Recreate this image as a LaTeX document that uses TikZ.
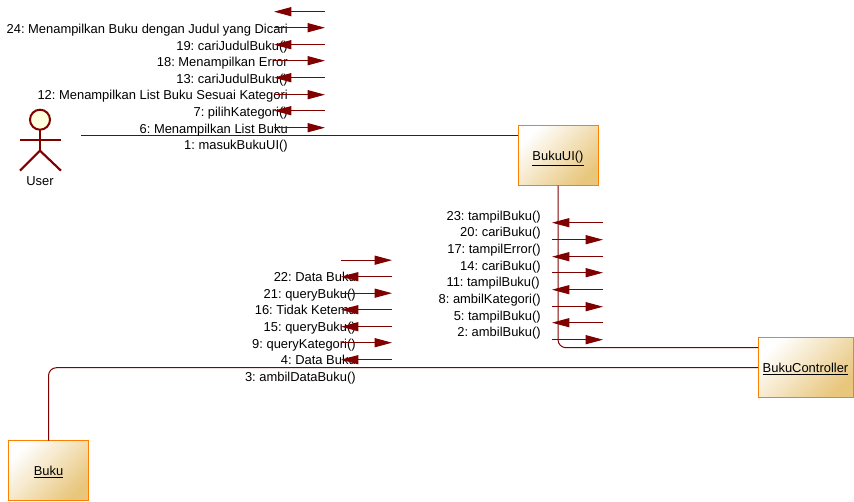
\documentclass[tikz,border=0pt]{standalone}
\usepackage{fontspec}
\setmainfont{Liberation Sans}
\usetikzlibrary{arrows.meta}
\frenchspacing
\definecolor{linered}{HTML}{800000}
\definecolor{boxedge}{HTML}{FF8000}
\definecolor{boxtan}{HTML}{E8C67C}
\definecolor{headfill}{HTML}{FFFFDD}
\tikzset{
	objbox/.style={draw=boxedge, line width=0.75pt, minimum height=45pt, outer sep=0pt, inner sep=0pt,
		top color=white, bottom color=boxtan, shading angle=45, text height=7.8pt, text depth=1pt, font=\fontsize{9.7}{11}\selectfont},
	msgtext/.style={anchor=east, inner sep=0pt, text height=8.5pt, text depth=2pt, font=\fontsize{9.7}{11}\selectfont},
	msg/.style={draw=linered, line width=0.75pt, -{Triangle[length=13pt, width=6.8pt]}, color=linered},
	link/.style={draw=linered, line width=0.75pt, rounded corners=6pt},
	limb/.style={draw=linered, line width=1.6pt}
}

\begin{document}
\begin{tikzpicture}[x=0.75pt, y=-0.75pt]
			%%%%% START %%%%%
			\useasboundingbox (0, -0.7) rectangle (854, 501.3);
			
			\node[objbox, minimum width=60pt] (bukuui) at (558, 155) {\underline{BukuUI()}};
			\node[objbox, minimum width=71.25pt] (controller) at (805.5, 367) {\underline{BukuController}};
			\node[objbox, minimum width=60pt] (buku) at (48.5, 470) {\underline{Buku}};
			
			% actor
			\draw[limb] (40, 129) -- (40, 150);
			\draw[limb] (20, 139) -- (61, 139);
			\draw[limb] (20, 170) -- (40, 150) -- (61, 170);
			\draw[draw=linered, line width=1.5pt, fill=headfill] (40, 119) circle (10);
			\node[msgtext, anchor=center] (user) at (40, 180.5) {User};
			
			% links
			\coordinate (userend) at (81, 135);
			\coordinate (uitoctrl) at (758, 347);
			\draw[link] (userend) -- (userend -| bukuui.west);
			\draw[link] (bukuui.south) |- (uitoctrl);
			\draw[link] (buku.north) |- (controller.west);
			
			% messages user - bukuui
			\node[msgtext] (m24) at (288, 28) {24: Menampilkan Buku dengan Judul yang Dicari};
			\node[msgtext] (m19) at (288, 45) {19: cariJudulBuku()};
			\node[msgtext] (m18) at (288, 61) {18: Menampilkan Error};
			\node[msgtext] (m13) at (288, 78) {13: cariJudulBuku()};
			\node[msgtext] (m12) at (288, 94.5) {12: Menampilkan List Buku Sesuai Kategori};
			\node[msgtext] (m7) at (288, 111) {7: pilihKategori()};
			\node[msgtext] (m6) at (288, 128) {6: Menampilkan List Buku};
			\node[msgtext] (m1) at (288, 144.5) {1: masukBukuUI()};
			
			\coordinate (a1l) at (274, 11);  \coordinate (a1r) at (325, 11);
			\coordinate (a2l) at (274, 27);  \coordinate (a2r) at (325, 27);
			\coordinate (a3l) at (274, 44);  \coordinate (a3r) at (325, 44);
			\coordinate (a4l) at (274, 60);  \coordinate (a4r) at (325, 60);
			\coordinate (a5l) at (274, 77);  \coordinate (a5r) at (325, 77);
			\coordinate (a6l) at (274, 94);  \coordinate (a6r) at (325, 94);
			\coordinate (a7l) at (274, 110); \coordinate (a7r) at (325, 110);
			\coordinate (a8l) at (274, 127); \coordinate (a8r) at (325, 127);
			\draw[msg] (a1r) -- (a1l);
			\draw[msg] (a2l) -- (a2r);
			\draw[msg] (a3r) -- (a3l);
			\draw[msg] (a4l) -- (a4r);
			\draw[msg] (a5r) -- (a5l);
			\draw[msg] (a6l) -- (a6r);
			\draw[msg] (a7r) -- (a7l);
			\draw[msg] (a8l) -- (a8r);
			
			% messages bukuui - controller
			\node[msgtext] (m23) at (541, 215) {23: tampilBuku()};
			\node[msgtext] (m20) at (541, 231.5) {20: cariBuku()};
			\node[msgtext] (m17) at (541, 248.5) {17: tampilError()};
			\node[msgtext] (m14) at (541, 265) {14: cariBuku()};
			\node[msgtext] (m11) at (540, 281.5) {11: tampilBuku()};
			\node[msgtext] (m8) at (541, 298.5) {8: ambilKategori()};
			\node[msgtext] (m5) at (541, 315) {5: tampilBuku()};
			\node[msgtext] (m2) at (541, 331.5) {2: ambilBuku()};
			
			\coordinate (b1l) at (552, 222); \coordinate (b1r) at (603, 222);
			\coordinate (b2l) at (552, 239); \coordinate (b2r) at (603, 239);
			\coordinate (b3l) at (552, 256); \coordinate (b3r) at (603, 256);
			\coordinate (b4l) at (552, 272); \coordinate (b4r) at (603, 272);
			\coordinate (b5l) at (552, 289); \coordinate (b5r) at (603, 289);
			\coordinate (b6l) at (552, 306); \coordinate (b6r) at (603, 306);
			\coordinate (b7l) at (552, 322); \coordinate (b7r) at (603, 322);
			\coordinate (b8l) at (552, 339); \coordinate (b8r) at (603, 339);
			\draw[msg] (b1r) -- (b1l);
			\draw[msg] (b2l) -- (b2r);
			\draw[msg] (b3r) -- (b3l);
			\draw[msg] (b4l) -- (b4r);
			\draw[msg] (b5r) -- (b5l);
			\draw[msg] (b6l) -- (b6r);
			\draw[msg] (b7r) -- (b7l);
			\draw[msg] (b8l) -- (b8r);
			
			% messages controller - buku
			\node[msgtext] (m22) at (356, 276.5) {22: Data Buku};
			\node[msgtext] (m21) at (356, 293) {21: queryBuku()};
			\node[msgtext] (m16) at (356, 309.5) {16: Tidak Ketemu};
			\node[msgtext] (m15) at (356, 326.5) {15: queryBuku()};
			\node[msgtext] (m9) at (356, 343.5) {9: queryKategori()};
			\node[msgtext] (m4) at (356, 359.5) {4: Data Buku};
			\node[msgtext] (m3) at (356, 376.5) {3: ambilDataBuku()};
			
			\coordinate (c1l) at (341, 259.5); \coordinate (c1r) at (392, 259.5);
			\coordinate (c2l) at (341, 276);   \coordinate (c2r) at (392, 276);
			\coordinate (c3l) at (341, 292.5); \coordinate (c3r) at (392, 292.5);
			\coordinate (c4l) at (341, 309);   \coordinate (c4r) at (392, 309);
			\coordinate (c5l) at (341, 326);   \coordinate (c5r) at (392, 326);
			\coordinate (c6l) at (341, 342);   \coordinate (c6r) at (392, 342);
			\coordinate (c7l) at (341, 359);   \coordinate (c7r) at (392, 359);
			\draw[msg] (c1l) -- (c1r);
			\draw[msg] (c2r) -- (c2l);
			\draw[msg] (c3l) -- (c3r);
			\draw[msg] (c4r) -- (c4l);
			\draw[msg] (c5r) -- (c5l);
			\draw[msg] (c6l) -- (c6r);
			\draw[msg] (c7r) -- (c7l);
			
			%%%%% END %%%%%
\end{tikzpicture}
\end{document}
